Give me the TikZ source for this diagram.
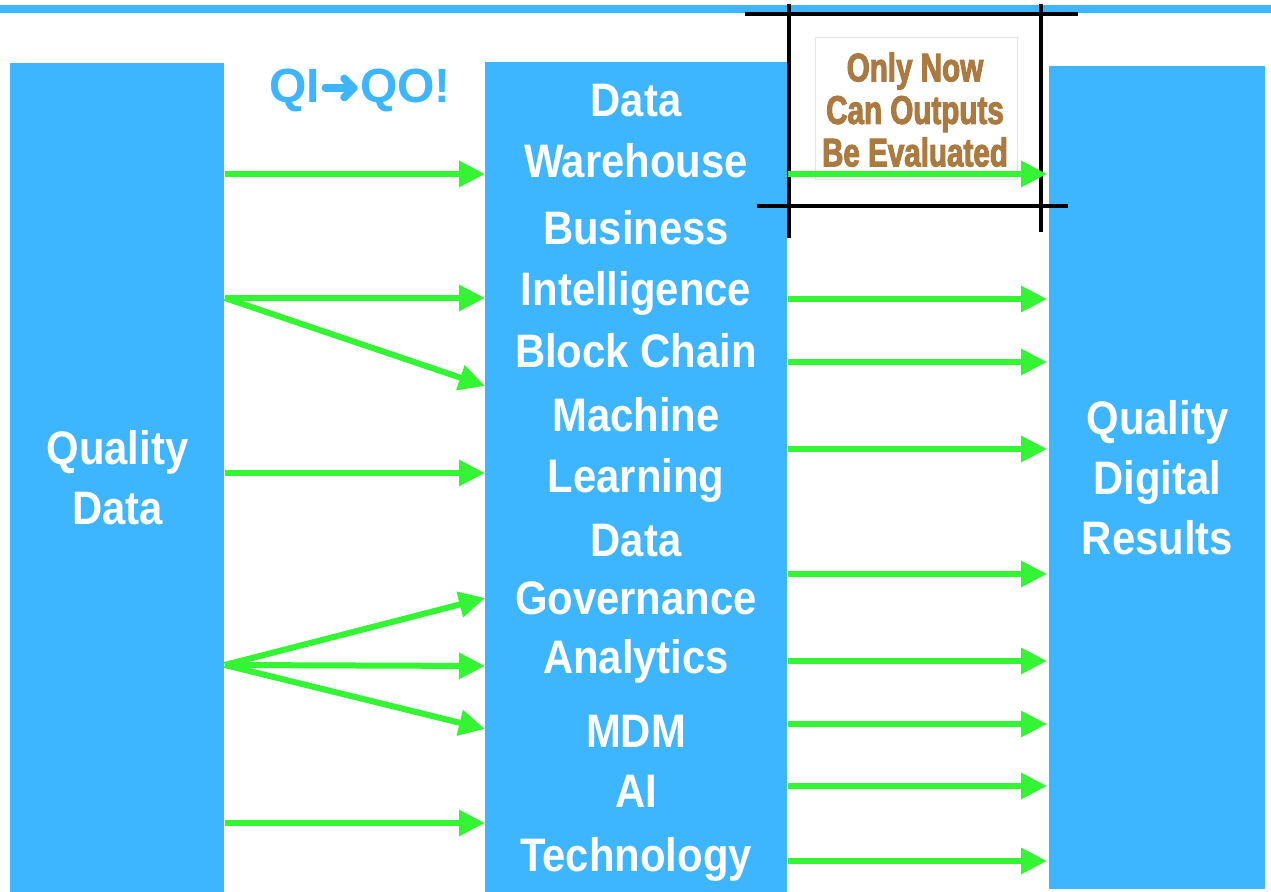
\documentclass[tikz,border=0pt]{standalone}
\usepackage{fontspec}
\setmainfont{Liberation Sans}
\newfontfamily\narrowfont{Liberation Sans}[FakeStretch=0.89]
\newfontfamily\posterfont{Liberation Sans}[FakeStretch=0.74,FakeBold=2.5]
\newfontfamily\dingfont{DejaVu Sans}[FakeBold=4]
\usetikzlibrary{arrows.meta}
\definecolor{skyblue}{RGB}{61,181,255}
\definecolor{arrowgreen}{RGB}{51,245,51}
\definecolor{ochre}{RGB}{171,122,64}

\begin{document}
\begin{tikzpicture}[x=0.5pt,y=-0.5pt,
  col/.style={fill=skyblue,anchor=north west,inner sep=0pt,text=white,align=center,
    font=\narrowfont\bfseries\fontsize{23.5}{30}\selectfont},
  techtxt/.style={text=white,anchor=base,inner sep=0pt,
    font=\narrowfont\bfseries\fontsize{23.5}{30}\selectfont},
  flow/.style={draw=arrowgreen,line width=3pt,-{Triangle[length=13pt,width=12.5pt]}},
  sketch/.style={line width=2pt,black}]
\useasboundingbox (0,0) rectangle (1271,892);
\fill[skyblue] (0,5) rectangle (1271,13);

% the three columns
\node[col,minimum width=107pt,minimum height=414.5pt] (qdata) at (10,63) {Quality\\Data};
\node[col,minimum width=151pt,minimum height=415pt] (tech) at (485,62) {};
\node[col,minimum width=108pt,minimum height=411.5pt] (qres) at (1049,66) {Quality\\Digital\\Results};
\foreach \y/\word [count=\i] in {117/Data,178/Warehouse,245/Business,306/Intelligence,
    368/Block Chain,432/Machine,493/Learning,557/Data,615/Governance,674/Analytics,
    748/MDM,808/AI,872/Technology}
  \node[techtxt] (w\i) at (636,\y) {\word};

\node[text=skyblue,anchor=base,inner sep=0pt,font=\bfseries\fontsize{24}{28}\selectfont]
  (qiqo) at (360,103) {QI{\dingfont\mdseries ➜}QO!};

% sketched frame
\draw[sketch] (789,4) -- (789,238);
\draw[sketch] (1041,4) -- (1041,232);
\draw[sketch] (745,14) -- (1078,14);
\draw[sketch] (757,206) -- (1068,206);
\draw[gray!20,line width=0.5pt] (815,38) rectangle (1017,180);
\node[text=ochre,anchor=north,inner sep=0pt,align=center,
  font=\posterfont\bfseries\fontsize{20}{21.25}\selectfont]
  (note) at (915,52) {Only Now\\Can Outputs\\Be Evaluated};

% inputs
\draw[flow] (qdata.east |- 0,174) -- (tech.west |- 0,174);
\coordinate (fanA) at (qdata.east |- 0,298);
\foreach \y in {298,386}
  \draw[flow] (fanA) -- (tech.west |- 0,\y);
\draw[flow] (qdata.east |- 0,473) -- (tech.west |- 0,473);
\coordinate (fanB) at (qdata.east |- 0,665);
\foreach \y in {598,666,729}
  \draw[flow] (fanB) -- (tech.west |- 0,\y);
\draw[flow] (qdata.east |- 0,823) -- (tech.west |- 0,823);
% outputs
\foreach \y in {174,299,362,449,574,661,724,786,861}
  \draw[flow,shorten >=1pt] (tech.east |- 0,\y) -- (qres.west |- 0,\y);
\end{tikzpicture}
\end{document}
